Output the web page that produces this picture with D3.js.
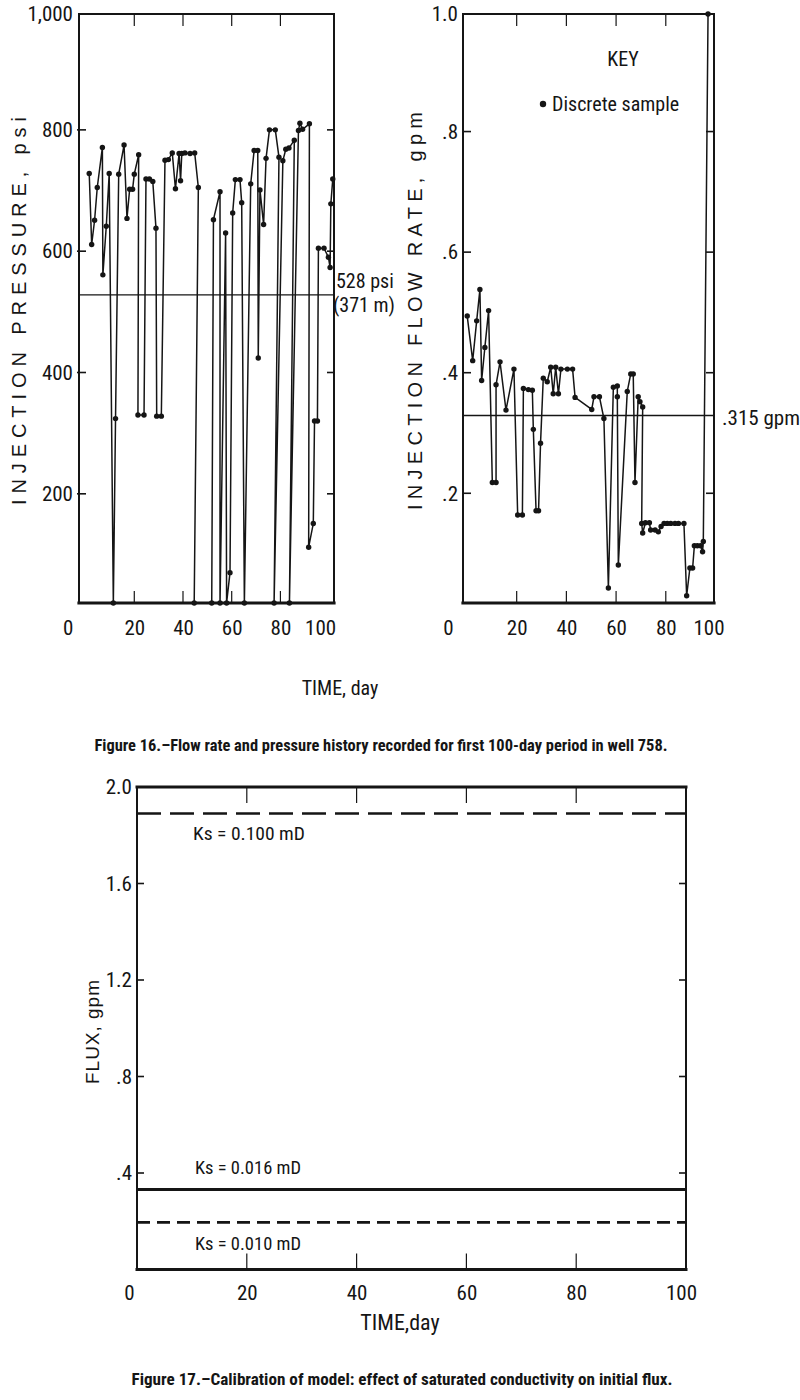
<!DOCTYPE html>
<html><head><meta charset="utf-8">
<script src="https://cdn.jsdelivr.net/npm/d3@7"></script>
<style>
body{margin:0;background:#fff;}
svg{display:block;background:#fff;}
</style></head><body><svg id="c" width="800" height="1400"></svg>
<script>
// ---------------- DATA ----------------
const pressureDays = [1.5,2.5,3.7,4.8,6.9,7.1,8.5,9.7,11.4,12.3,13.6,15.8,17.0,18.1,19.3,20.0,21.8,21.5,24.0,24.8,26.2,27.6,28.9,29.2,31.1,32.6,34.0,35.6,36.9,38.4,39.0,39.5,40.8,42.9,44.8,46.3,44.6,51.8,52.5,55.2,55.2,57.5,57.9,59.3,60.4,61.5,63.4,64.1,65.2,67.8,69.2,70.7,70.9,71.6,73.1,74.1,75.5,77.9,79.4,77.4,81.0,82.2,83.5,85.7,83.7,87.4,88.0,89.1,91.9,91.6,93.5,94.0,95.2,95.6,97.9,99.7,100.4,100.7,101.5];
const pressureValues = [728,611,651,705,771,561,641,728,0,324,727,775,654,702,702,727,759,330,330,719,719,715,638,328,328,750,751,762,703,761,716,761,762,761,762,705,0,0,652,698,0,630,0,70,663,718,718,680,0,711,766,766,424,701,644,753,800,800,755,0,749,768,770,783,0,799,811,801,810,112,151,320,320,605,605,590,573,678,719];
const pressureRef = 528;

const flowDays = [0.1,2.3,3.9,5.2,5.9,7.2,8.7,10.2,11.7,11.7,13.3,15.7,18.9,20.4,22.3,22.7,24.7,26.3,26.7,27.8,28.8,29.6,30.7,32.3,33.7,34.7,35.7,36.8,37.8,40.4,42.5,43.5,50.2,51.1,53.3,55.1,56.9,58.9,60.5,60.5,60.9,64.5,65.9,66.9,67.6,68.9,69.6,70.7,70.3,70.7,71.8,73.4,73.9,75.7,77.0,78.1,79.3,80.6,82.0,83.7,85.1,87.3,88.4,89.7,90.8,91.5,92.7,94.0,94.8,95.1,97.0];
const flowValues = [0.494,0.420,0.486,0.538,0.387,0.442,0.503,0.218,0.218,0.380,0.418,0.338,0.406,0.164,0.164,0.374,0.372,0.371,0.306,0.171,0.171,0.283,0.391,0.385,0.409,0.365,0.409,0.365,0.406,0.406,0.406,0.359,0.339,0.360,0.360,0.324,0.043,0.376,0.378,0.360,0.081,0.369,0.398,0.398,0.218,0.360,0.352,0.343,0.150,0.134,0.151,0.151,0.139,0.139,0.136,0.145,0.150,0.150,0.150,0.150,0.150,0.150,0.030,0.076,0.076,0.113,0.113,0.113,0.103,0.120,1.0];
const flowRef = 0.329;

const ksLabels = ["Ks = 0.100 mD","Ks = 0.016 mD","Ks = 0.010 mD"];
const ksFlux = [1.89, 0.332, 0.195];

const timeTicks = [0,20,40,60,80,100];
const pressureTicks = [200,400,600,800,1000];
const pressureTickLabels = ["200","400","600","800","1,000"];
const flowTicks = [0.2,0.4,0.6,0.8,1.0];
const flowTickLabels = [".2",".4",".6",".8","1.0"];
const fluxTicks = [0.4,0.8,1.2,1.6,2.0];
const fluxTickLabels = [".4",".8","1.2","1.6","2.0"];

const texts = {
  pressureY: "INJECTION PRESSURE, psi",
  flowY: "INJECTION FLOW RATE, gpm",
  fluxY: "FLUX, gpm",
  time16: "TIME, day",
  time17: "TIME,day",
  pressureRef1: "528 psi",
  pressureRef2: "(371 m)",
  flowRef: ".315 gpm",
  key: "KEY",
  keyItem: "Discrete sample",
  cap16: "Figure 16.\u2013Flow rate and pressure history recorded for first 100-day period in well 758.",
  cap17: "Figure 17.\u2013Calibration of model: effect of saturated conductivity on initial flux."
};

// ---------------- DRAW ----------------
const NARROW = '"Liberation Sans Narrow","Arial Narrow","Roboto Condensed",sans-serif';
const WIDE = '"Liberation Sans",Arial,Helvetica,sans-serif';
const INK = "#151515";
const svg = d3.select("#c");

function frame(x, y, w) {
  const [x0, x1] = x.range(), [y0, y1] = y.range();
  const g = svg.append("g").attr("stroke", INK).attr("fill", "none").attr("stroke-linecap","square");
  g.append("line").attr("x1", x0).attr("x2", x1).attr("y1", y1).attr("y2", y1).attr("stroke-width", w.top);
  g.append("line").attr("x1", x0).attr("x2", x1).attr("y1", y0).attr("y2", y0).attr("stroke-width", w.bottom);
  g.append("line").attr("x1", x0).attr("x2", x0).attr("y1", y0).attr("y2", y1).attr("stroke-width", w.left);
  g.append("line").attr("x1", x1).attr("x2", x1).attr("y1", y0).attr("y2", y1).attr("stroke-width", w.right);
}

function axes(x, y, o) {
  const [x0, x1] = x.range(), [y0, y1] = y.range();
  const inner = o.xTicks.filter(t => t > 0 && t < 100);
  const gb = svg.append("g").attr("transform", `translate(0,${y0})`)
    .call(d3.axisBottom(x).tickValues(o.xTicks).tickSize(0).tickPadding(o.xPad));
  gb.select(".domain").remove();
  gb.selectAll("text").attr("font-family", NARROW).attr("font-size", o.fs).attr("fill", INK)
    .attr("dx", (d) => d === 0 ? o.dx0 : (d === 100 ? o.dx100 : 0));
  const gt = svg.append("g").attr("stroke", INK).attr("stroke-width", 1.2);
  inner.forEach(t => {
    gt.append("line").attr("x1", x(t)).attr("x2", x(t)).attr("y1", y0).attr("y2", y0 - o.xt);
    gt.append("line").attr("x1", x(t)).attr("x2", x(t)).attr("y1", y1).attr("y2", y1 + o.xt);
  });
  const gl = svg.append("g").attr("transform", `translate(${x0},0)`)
    .call(d3.axisLeft(y).tickValues(o.yTicks).tickFormat((d, i) => o.yLabels[i]).tickSize(0).tickPadding(o.yPad));
  gl.select(".domain").remove();
  gl.selectAll("text").attr("font-family", NARROW).attr("font-size", o.fs).attr("fill", INK);
  o.yTicks.filter(t => y(t) > y1 + 2 && y(t) < y0 - 2).forEach(t => {
    gt.append("line").attr("x1", x0 - o.yOut).attr("x2", x0 + o.yt).attr("y1", y(t)).attr("y2", y(t)).attr("stroke-width", 1.6);
    gt.append("line").attr("x1", x1).attr("x2", x1 - o.yt).attr("y1", y(t)).attr("y2", y(t)).attr("stroke-width", 1.6);
  });
}

function rotLabel(txt, cx, cy, len, fs) {
  svg.append("text").attr("transform", `translate(${cx},${cy}) rotate(-90)`)
    .attr("text-anchor", "middle").attr("font-family", WIDE).attr("font-size", fs).attr("fill", INK)
    .attr("textLength", len).attr("lengthAdjust", "spacing").text(txt);
}

function label(txt, x, y, fs, opts = {}) {
  const t = svg.append("text").attr("x", x).attr("y", y).attr("font-family", opts.family || NARROW)
    .attr("font-size", fs).attr("fill", INK).attr("text-anchor", opts.anchor || "start")
    .attr("font-weight", opts.weight || "normal").text(txt);
  if (opts.len) t.attr("textLength", opts.len).attr("lengthAdjust", "spacingAndGlyphs");
  return t;
}

// ---- Figure 16 left: pressure ----
const xP = d3.scaleLinear().domain([-2.7, 102]).range([79, 334]);
const yP = d3.scaleLinear().domain([20, 991]).range([603, 14]).clamp(true);
frame(xP, yP, {top: 2, bottom: 3.2, left: 2, right: 2});
axes(xP, yP, {xTicks: timeTicks, yTicks: pressureTicks, yLabels: pressureTickLabels, fs: 21, xPad: 17, yPad: 6, dx0: -18, dx100: -9, xt: 12, yt: 7, yOut: 2});
svg.append("line").attr("x1", xP.range()[0]).attr("x2", xP.range()[1]).attr("y1", yP(pressureRef)).attr("y2", yP(pressureRef))
  .attr("stroke", INK).attr("stroke-width", 1.1);
const pData = pressureDays.map((d, i) => ({d, v: pressureValues[i]}));
svg.append("path").datum(pData).attr("fill", "none").attr("stroke", INK).attr("stroke-width", 1.5)
  .attr("d", d3.line().x(p => xP(p.d)).y(p => yP(p.v)));
svg.append("g").selectAll("circle").data(pData).join("circle")
  .attr("cx", p => xP(p.d)).attr("cy", p => yP(p.v)).attr("r", 2.7).attr("fill", INK);
rotLabel(texts.pressureY, 26, 311, 388, 20);
label(texts.pressureRef1, 336, 288, 20);
label(texts.pressureRef2, 333, 312, 20);

// ---- Figure 16 right: flow ----
const xF = d3.scaleLinear().domain([-1.6, 99.4]).range([463, 714]);
const yF = d3.scaleLinear().domain([0.018, 0.995]).range([603, 14]).clamp(true);
frame(xF, yF, {top: 2, bottom: 3.2, left: 2, right: 2});
axes(xF, yF, {xTicks: timeTicks, yTicks: flowTicks, yLabels: flowTickLabels, fs: 21, xPad: 17, yPad: 5, dx0: -19, dx100: -7, xt: 12, yt: 8, yOut: 0});
svg.append("line").attr("x1", xF.range()[0]).attr("x2", xF.range()[1]).attr("y1", yF(flowRef)).attr("y2", yF(flowRef))
  .attr("stroke", INK).attr("stroke-width", 1.3);
const fData = flowDays.map((d, i) => ({d, v: flowValues[i]}));
svg.append("path").datum(fData).attr("fill", "none").attr("stroke", INK).attr("stroke-width", 1.5)
  .attr("d", d3.line().x(p => xF(p.d)).y(p => yF(p.v)));
svg.append("g").selectAll("circle").data(fData).join("circle")
  .attr("cx", p => xF(p.d)).attr("cy", p => yF(p.v)).attr("r", 2.7).attr("fill", INK);
rotLabel(texts.flowY, 422, 311, 398, 20);
label(texts.flowRef, 722, 425, 21);
label(texts.key, 623, 66, 20, {anchor: "middle"});
svg.append("circle").attr("cx", 543).attr("cy", 104).attr("r", 3.2).attr("fill", INK);
label(texts.keyItem, 552, 111, 20);

label(texts.time16, 340, 695, 20, {anchor: "middle"});
label(texts.cap16, 381, 751, 16.5, {anchor: "middle", weight: "bold", len: 573});

// ---- Figure 17 ----
const xK = d3.scaleLinear().domain([0, 100]).range([137, 686]);
const yK = d3.scaleLinear().domain([0, 2]).range([1269.5, 787]);
frame(xK, yK, {top: 3, bottom: 3, left: 2, right: 2});
axes(xK, yK, {xTicks: timeTicks, yTicks: fluxTicks, yLabels: fluxTickLabels, fs: 21, xPad: 16, yPad: 5, dx0: -8, dx100: -5, xt: 16, yt: 7, yOut: 0});
const dashes = ["24,9", null, "13,7"];
const widths = [2.6, 3, 2.8];
ksFlux.forEach((v, i) => {
  const l = svg.append("line").attr("x1", xK(0)).attr("x2", xK(100)).attr("y1", yK(v)).attr("y2", yK(v))
    .attr("stroke", INK).attr("stroke-width", widths[i]);
  if (dashes[i]) l.attr("stroke-dasharray", dashes[i]);
});
label(ksLabels[0], 193, yK(ksFlux[0]) + 26, 18, {len: 112});
label(ksLabels[1], 195, yK(ksFlux[1]) - 15, 18, {len: 106});
label(ksLabels[2], 195, yK(ksFlux[2]) + 28, 18, {len: 106});
rotLabel(texts.fluxY, 99, 1032, 104, 19);
label(texts.time17, 400, 1330, 22, {anchor: "middle"});
label(texts.cap17, 402, 1385, 16.5, {anchor: "middle", weight: "bold", len: 541});
</script></body></html>
